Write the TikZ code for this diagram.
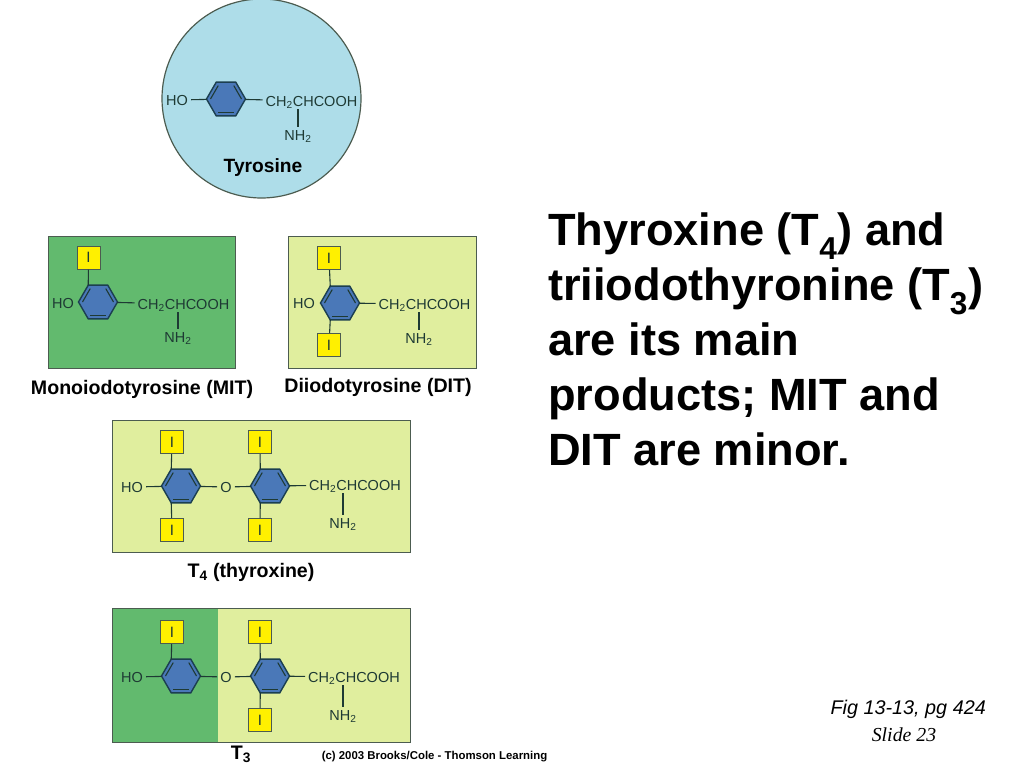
\documentclass[tikz,border=0pt]{standalone}
\usepackage{fontspec}
\setmainfont{Liberation Sans}
\newfontfamily\slidefont{Liberation Serif}
\usetikzlibrary{shapes.geometric}

\definecolor{panelgreen}{HTML}{62BA6E}
\definecolor{panellight}{HTML}{E0EE9E}
\definecolor{panelblue}{HTML}{AEDDE9}
\definecolor{panelline}{HTML}{4C5C50}
\definecolor{ringblue}{HTML}{4A78B8}
\definecolor{ringline}{HTML}{1C3F50}
\definecolor{iodine}{HTML}{FFF000}
\definecolor{chemink}{HTML}{1E3A34}

% ring with its three inner double bonds
\newcommand{\bluering}[2]{
  \node[ringnode] (#1) at (#2) {};
  \node[ringinner] (#1i) at (#2) {};
  \draw[bond] (#1i.180) -- (#1i.120);
  \draw[bond] (#1i.60) -- (#1i.0);
  \draw[bond] (#1i.240) -- (#1i.300);
}

\begin{document}
\begin{tikzpicture}[x=1pt,y=-1pt,
    chem/.style={font=\fontsize{14.5}{16}\selectfont, text=chemink, inner sep=3pt, text height=10.4pt, text depth=0pt},
    bond/.style={draw=chemink, line width=1.1pt},
    ringnode/.style={regular polygon, regular polygon sides=6, minimum size=39pt, inner sep=0pt, outer sep=0pt, draw=ringline, fill=ringblue, line width=1.4pt},
    ringinner/.style={regular polygon, regular polygon sides=6, minimum size=31pt, inner sep=0pt, outer sep=0pt},
    iodbox/.style={draw=panelline, fill=iodine, line width=1pt, minimum width=23pt, minimum height=23pt, inner sep=0pt, font=\fontsize{15}{16}\selectfont, text=chemink},
    panel/.style={draw=panelline, line width=1pt},
    caption/.style={font=\fontsize{19.6}{22}\bfseries\selectfont, inner sep=0pt}]

  \useasboundingbox (0,0) rectangle (1024,768);

  % tyrosine
  \node[circle, draw=panelline, fill=panelblue, line width=1.2pt, minimum size=199pt, inner sep=0pt] (tyrdisc) at (261.5,98.5) {};
  \bluering{tyrring}{226,99}
  \node[chem] (tyrho) at (177,100) {HO};
  \node[chem] (tyrchain) at (311.5,101) {CH\textsubscript{2}CHCOOH};
  \node[chem] (tyrnh) at (298,135) {NH\textsubscript{2}};
  \draw[bond] (tyrho) -- (tyrring);
  \draw[bond] (tyrring) -- (tyrchain);
  \draw[bond] (tyrnh.north) -- (tyrnh.north |- tyrchain.south);

  % monoiodotyrosine
  \node[panel, fill=panelgreen, minimum width=187pt, minimum height=132pt, inner sep=0pt] (mitpanel) at (141.5,302) {};
  \bluering{mitring}{98,302}
  \node[iodbox] (mitiod) at (88.5,257.5) {I};
  \node[chem] (mitho) at (63,303) {HO};
  \node[chem] (mitchain) at (183.5,304) {CH\textsubscript{2}CHCOOH};
  \node[chem] (mitnh) at (178,337) {NH\textsubscript{2}};
  \draw[bond] (mitiod) -- (mitring.120);
  \draw[bond] (mitring) -- (mitchain);
  \draw[bond] (mitnh.north) -- (mitnh.north |- mitchain.south);

  % diiodotyrosine
  \node[panel, fill=panellight, minimum width=188pt, minimum height=132pt, inner sep=0pt] (ditpanel) at (382,302) {};
  \bluering{ditring}{340,303}
  \node[iodbox] (ditiodtop) at (329,258) {I};
  \node[iodbox] (ditiodbot) at (329,345) {I};
  \node[chem] (ditho) at (304,303) {HO};
  \node[chem] (ditchain) at (424.5,304) {CH\textsubscript{2}CHCOOH};
  \node[chem] (ditnh) at (419,338) {NH\textsubscript{2}};
  \draw[bond] (ditiodtop) -- (ditring.120);
  \draw[bond] (ditiodbot) -- (ditring.240);
  \draw[bond] (ditring) -- (ditchain);
  \draw[bond] (ditnh.north) -- (ditnh.north |- ditchain.south);

  % thyroxine
  \node[panel, fill=panellight, minimum width=298pt, minimum height=132pt, inner sep=0pt] (tfourpanel) at (261,486) {};
  \bluering{tfourleft}{181,486}
  \bluering{tfourright}{270,486}
  \node[iodbox] (tfouriodone) at (172,442) {I};
  \node[iodbox] (tfouriodtwo) at (172,530) {I};
  \node[iodbox] (tfouriodthree) at (260,442) {I};
  \node[iodbox] (tfouriodfour) at (260,530) {I};
  \node[chem] (tfourho) at (132,487) {HO};
  \node[chem] (tfouro) at (226,487) {O};
  \node[chem] (tfourchain) at (355,485) {CH\textsubscript{2}CHCOOH};
  \node[chem] (tfournh) at (343,523) {NH\textsubscript{2}};
  \draw[bond] (tfourho) -- (tfourleft);
  \draw[bond] (tfourleft) -- (tfouro);
  \draw[bond] (tfouro) -- (tfourright);
  \draw[bond] (tfourright) -- (tfourchain);
  \draw[bond] (tfouriodone) -- (tfourleft.120);
  \draw[bond] (tfouriodtwo) -- (tfourleft.240);
  \draw[bond] (tfouriodthree) -- (tfourright.120);
  \draw[bond] (tfouriodfour) -- (tfourright.240);
  \draw[bond] (tfournh.north) -- (tfournh.north |- tfourchain.south);

  % triiodothyronine
  \node[fill=panellight, minimum width=298pt, minimum height=133pt, inner sep=0pt] (tthreepanel) at (261.5,675.5) {};
  \fill[panelgreen] (tthreepanel.north west) rectangle (218,742);
  \draw[panel] (tthreepanel.north west) rectangle (tthreepanel.south east);
  \bluering{tthreeleft}{181,676}
  \bluering{tthreeright}{270,676}
  \node[iodbox] (tthreeiodone) at (172,632) {I};
  \node[iodbox] (tthreeiodtwo) at (260,632) {I};
  \node[iodbox] (tthreeiodthree) at (260,720) {I};
  \node[chem] (tthreeho) at (132,677) {HO};
  \node[chem] (tthreeo) at (226,677) {O};
  \node[chem] (tthreechain) at (354,677) {CH\textsubscript{2}CHCOOH};
  \node[chem] (tthreenh) at (343,715) {NH\textsubscript{2}};
  \draw[bond] (tthreeho) -- (tthreeleft);
  \draw[bond] (tthreeleft) -- (tthreeo);
  \draw[bond] (tthreeo) -- (tthreeright);
  \draw[bond] (tthreeright) -- (tthreechain);
  \draw[bond] (tthreeiodone) -- (tthreeleft.120);
  \draw[bond] (tthreeiodtwo) -- (tthreeright.120);
  \draw[bond] (tthreeiodthree) -- (tthreeright.240);
  \draw[bond] (tthreenh.north) -- (tthreenh.north |- tthreechain.south);

  % captions
  \node[caption, font=\fontsize{19.2}{22}\bfseries\selectfont] (tyrlabel) at (263,168) {Tyrosine};
  \node[caption] (mitlabel) at (142,389) {Monoiodotyrosine (MIT)};
  \node[caption] (ditlabel) at (378,387) {Diiodotyrosine (DIT)};
  \node[caption] (tfourlabel) at (251,572) {T\textsubscript{4} (thyroxine)};
  \node[caption] (tthreelabel) at (241,754) {T\textsubscript{3}};
  \node[font=\fontsize{11.4}{13}\bfseries\selectfont, inner sep=0pt] (credit) at (434.5,757) {(c) 2003 Brooks/Cole - Thomson Learning};

  % text on the right
  \node[anchor=north west, align=left, inner sep=0pt, font=\fontsize{45.2}{55}\bfseries\selectfont] (maintext) at (548,213) {Thyroxine (T\textsubscript{4}) and\\triiodothyronine (T\textsubscript{3})\\are its main\\products; MIT and\\DIT are minor.};
  \node[anchor=east, inner sep=0pt, font=\fontsize{19.8}{22}\itshape\selectfont] (figref) at (986,709) {Fig 13-13, pg 424};
  \node[inner sep=0pt, font=\fontsize{19.8}{22}\itshape\slidefont\selectfont] (slideno) at (904,735) {Slide 23};

\end{tikzpicture}
\end{document}
